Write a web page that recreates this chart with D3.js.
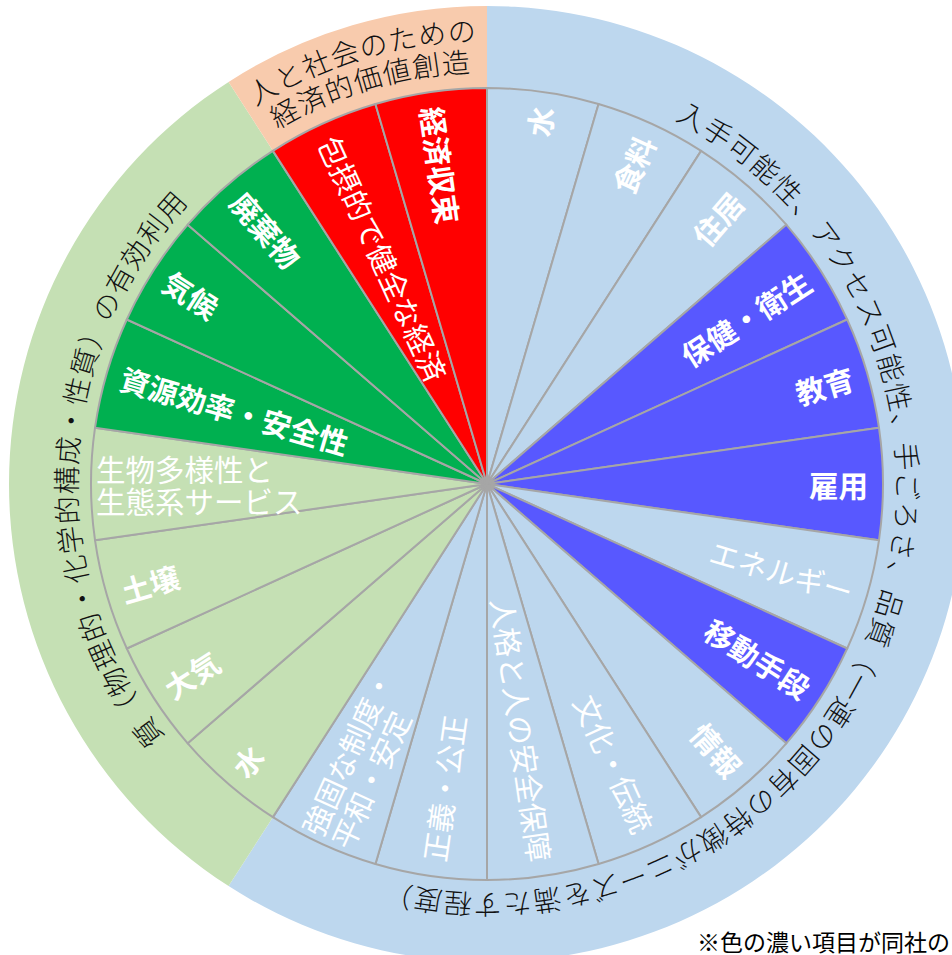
<!DOCTYPE html>
<html>
<head>
<meta charset="utf-8">
<script src="https://cdn.jsdelivr.net/npm/d3@7"></script>
<style>
  body { margin: 0; background: #fff; }
  text { font-family: "Noto Sans CJK JP", "Noto Sans", sans-serif; }
</style>
</head>
<body>
<svg id="chart" width="952" height="955"></svg>
<script>
// inner ring items, clockwise from 12 o'clock
const items = ["水", "食料", "住居", "保健・衛生", "教育", "雇用", "エネルギー", "移動手段", "情報",
  "文化・伝統", "人格と人の安全保障", "正義・公正", "強固な制度・\n平和・安定",
  "水", "大気", "土壌", "生物多様性と\n生態系サービス", "資源効率・安全性", "気候", "廃棄物",
  "包摂的で健全な経済", "経済収束"];
// which outer category each item belongs to
const itemGroup = [0, 0, 0, 0, 0, 0, 0, 0, 0, 0, 0, 0, 0, 1, 1, 1, 1, 1, 1, 1, 2, 2];
// dark (focus) items
const focus = [0, 0, 0, 1, 1, 1, 0, 1, 0, 0, 0, 0, 0, 0, 0, 0, 0, 1, 1, 1, 1, 1];
const boldLabel = [1, 1, 1, 1, 1, 1, 0, 1, 1, 0, 0, 0, 0, 1, 1, 1, 0, 1, 1, 1, 0, 1];

// outer ring categories
const groups = ["入手可能性、アクセス可能性、手ごろさ、品質（一連の固有の特徴がニーズを満たす程度）",
  "質（物理的・化学的構成・性質）の有効利用",
  "人と社会のための\n経済的価値創造"];
const note = "※色の濃い項目が同社の";

const lightColors = ["#BDD7EE", "#C5E0B4", "#F8CBAD"];
const darkColors = ["#5858FF", "#00B050", "#FF0000"];

const cx = 487, cy = 484;
const rInner = 396, rOuter = 478;

const svg = d3.select("#chart");
const g = svg.append("g").attr("transform", "translate(" + cx + "," + cy + ")");

const deg = Math.PI / 180;

// outer ring
const groupCounts = groups.map((d, i) => itemGroup.filter(x => x === i).length);
const outerPie = d3.pie().sort(null).value(d => d)(groupCounts);
const outerArc = d3.arc().innerRadius(rInner).outerRadius(rOuter);

g.selectAll("path.outer")
  .data(outerPie).enter()
  .append("path")
    .attr("class", "outer")
    .attr("d", outerArc)
    .attr("fill", (d, i) => lightColors[i]);

// inner ring
const innerPie = d3.pie().sort(null).value(1)(items);
const innerArc = d3.arc().innerRadius(0).outerRadius(rInner);

g.selectAll("path.inner")
  .data(innerPie).enter()
  .append("path")
    .attr("class", "inner")
    .attr("d", innerArc)
    .attr("fill", (d, i) => focus[i] ? darkColors[itemGroup[i]] : lightColors[itemGroup[i]])
    .attr("stroke", "#A6A6A6")
    .attr("stroke-width", 2)
    .attr("stroke-linejoin", "round");

// radial labels: right half reads outward, left half reads inward
innerPie.forEach(function(d, i) {
  const a = (d.startAngle + d.endAngle) / 2;
  const a_deg = a / deg;
  const lines = items[i].split("\n");
  const r = lines.length > 1 ? 391 : 381;
  const x = r * Math.sin(a), y = -r * Math.cos(a);
  const right = a_deg < 180;
  const rot = right ? a_deg - 90 : a_deg - 270;

  const t = g.append("text")
    .attr("transform", "translate(" + x + "," + y + ") rotate(" + rot + ")")
    .attr("text-anchor", right ? "end" : "start")
    .attr("fill", "#fff")
    .attr("font-size", 29.5)
    .attr("font-weight", boldLabel[i] ? 700 : 400);

  lines.forEach(function(line, k) {
    t.append("tspan")
      .attr("x", 0)
      .attr("y", (k - (lines.length - 1) / 2) * 32)
      .attr("dominant-baseline", "central")
      .text(line);
  });
});

// curved text in the outer ring
function arcPath(r, a0, a1) {
  const p = d3.path();
  p.arc(0, 0, r, a0 - Math.PI / 2, a1 - Math.PI / 2, false);
  return p.toString();
}

function ringText(id, str, r, a0, a1, anchor) {
  g.append("path")
    .attr("id", id)
    .attr("d", arcPath(r, a0, a1))
    .attr("fill", "none");
  g.append("text")
    .attr("font-size", 28)
    .attr("font-weight", 300)
    .attr("letter-spacing", 1.2)
    .attr("fill", "#111")
    .append("textPath")
      .attr("href", "#" + id)
      .attr("startOffset", anchor === "middle" ? "50%" : 0)
      .attr("text-anchor", anchor)
      .text(str);
}

ringText("blueText", groups[0], 410, 27.3 * deg, 215 * deg, "start");
ringText("greenText", groups[1], 410, 231.8 * deg, 326 * deg, "start");

const peach = outerPie[2];
const peachLines = groups[2].split("\n");
ringText("peachText1", peachLines[0], 443, peach.startAngle, peach.endAngle, "middle");
ringText("peachText2", peachLines[1], 412, peach.startAngle, peach.endAngle, "middle");

// footnote (runs to the right edge, like the source)
svg.append("text")
  .attr("x", 697)
  .attr("y", 951)
  .attr("font-size", 23)
  .attr("fill", "#000")
  .text(note);
</script>
</body>
</html>
